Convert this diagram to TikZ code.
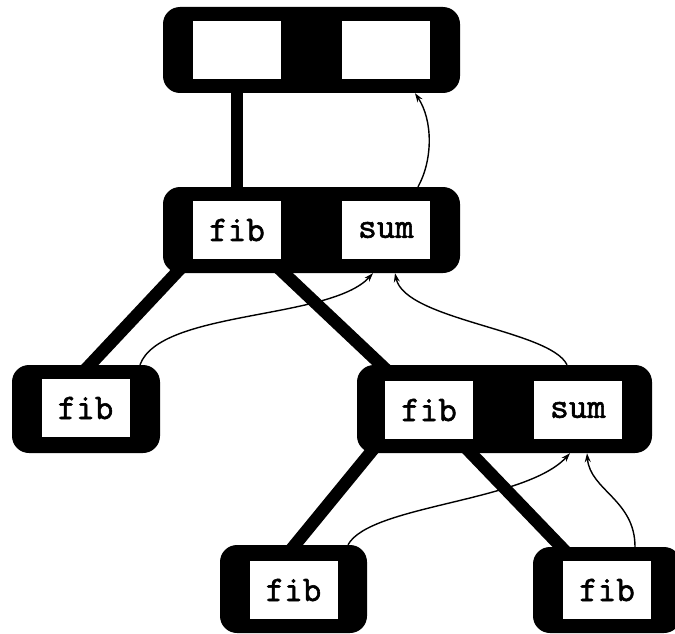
\documentclass[tikz,border=0pt]{standalone}
\usepackage{fontspec}
\newfontfamily\cellfont{Latin Modern Mono}[FakeBold=1.6]
\usetikzlibrary{arrows.meta,backgrounds}
\tikzset{
  frame/.style={fill=black, draw=none, rounded corners=17pt, inner sep=0pt},
  cell/.style={fill=white, draw=none, inner sep=0pt, minimum width=88pt,
               minimum height=58pt, font=\fontsize{36}{42}\selectfont\cellfont},
  link/.style={line width=12.5pt, shorten <=-8pt, shorten >=-8pt},
  flow/.style={line width=1.4pt, -{Stealth[length=9pt,width=6pt]}}
}
\begin{document}
\begin{tikzpicture}[x=1pt,y=-1pt]
\useasboundingbox (0,0) rectangle (675,634);

% frames of the call tree
\node[frame, minimum width=297pt, minimum height=86pt] (top)  at (311.5,50) {};
\node[frame, minimum width=297pt, minimum height=86pt] (mid)  at (311.5,230) {};
\node[frame, minimum width=148pt, minimum height=88pt] (left) at (86,409) {};
\node[frame, minimum width=295pt, minimum height=88pt] (rmid) at (504.5,409) {};
\node[frame, minimum width=147pt, minimum height=88pt] (bl)   at (293.5,589) {};
\node[frame, minimum width=148pt, minimum height=86pt] (br)   at (607,590) {};

% cells inside the frames
\node[cell] (topfib)  at (237,50) {};
\node[cell] (topsum)  at (386,50) {};
\node[cell] (midfib)  at (237,230) {fib};
\node[cell] (midsum)  at (386,230) {sum};
\node[cell] (leftfib) at (85.5,408) {fib};
\node[cell] (rmidfib) at (429,410) {fib};
\node[cell] (rmidsum) at (578,410) {sum};
\node[cell] (blfib)   at (293.5,590) {fib};
\node[cell] (brfib)   at (607,590) {fib};

% thick links between parent and child frames, behind the frames
\begin{scope}[on background layer]
  \draw[link] ([xshift=-74.5pt]top.south)  -- ([xshift=-74.5pt]mid.north);
  \draw[link] ([xshift=-135.5pt]mid.south) -- ([xshift=4pt]left.north);
  \draw[link] ([xshift=-27.5pt]mid.south)  -- ([xshift=-123.5pt]rmid.north);
  \draw[link] ([xshift=-134.5pt]rmid.south) -- ([xshift=1.5pt]bl.north);
  \draw[link] ([xshift=-33.5pt]rmid.south) -- ([xshift=-46pt]br.north);
\end{scope}

% results flowing back up to the sum cells
\draw[flow] ([xshift=106.5pt]mid.north) .. controls +(15,-27) and +(18,27) .. ([xshift=103.5pt]top.south);
\draw[flow] ([xshift=54pt]left.north) .. controls +(20,-55) and +(-43,47) .. ([xshift=-13pt]mid.south -| midsum);
\draw[flow] ([xshift=-11pt]rmid.north -| rmidsum) .. controls +(-17,-35) and +(10,47) .. ([xshift=9pt]mid.south -| midsum);
\draw[flow] ([xshift=54.5pt]bl.north) .. controls +(22,-40) and +(-45,49) .. ([xshift=-8pt]rmid.south -| rmidsum);
\draw[flow] ([xshift=28pt]br.north) .. controls +(0,-47) and +(3,37) .. ([xshift=9pt]rmid.south -| rmidsum);
\end{tikzpicture}
\end{document}
